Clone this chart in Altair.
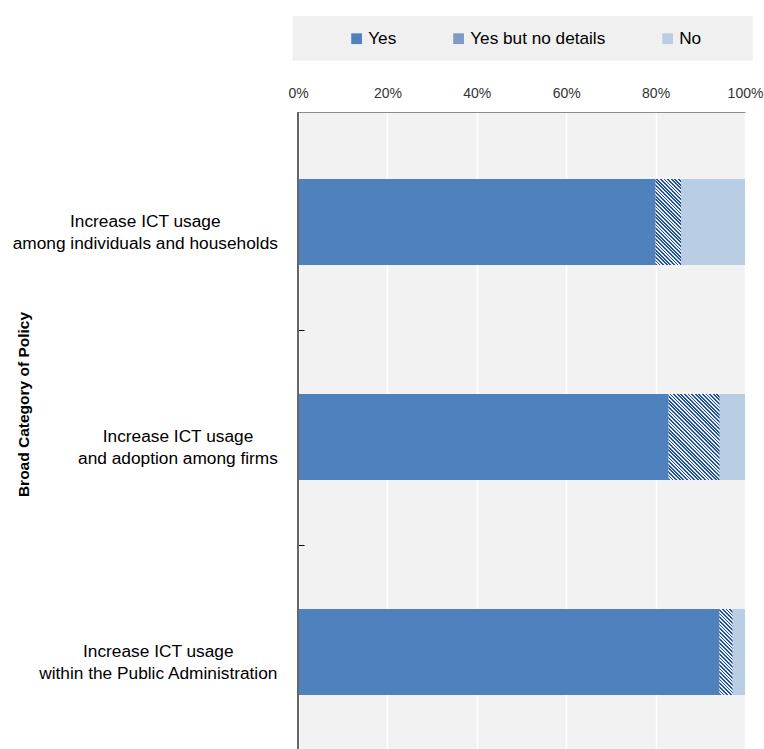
import altair as alt
import pandas as pd

# ---------------- data ----------------
categories = [
    "Increase ICT usage\namong individuals and households",
    "Increase ICT usage\nand adoption among firms",
    "Increase ICT usage\nwithin the Public Administration",
]
series = ["Yes", "Yes but no details", "No"]
yes = [80.0, 82.9, 94.3]
yes_no_details = [5.7, 11.4, 2.9]
no = [14.3, 5.7, 2.8]
x_ticks = [0, 20, 40, 60, 80, 100]

# ---------------- style / layout ----------------
FONT = "Liberation Sans"
W, H = 447, 637
P_IN, P_OUT, ALIGN = 0.6, 0.2814, 0.554
STEP = H / (len(categories) - P_IN + 2 * P_OUT)
BAR_H = STEP * (1 - P_IN)
C_YES, C_MID, C_NO = "#4f81bd", "#7f9ac4", "#b9cde5"
DARK, LIGHT = "#24518f", "#e6edf6"
LABEL_FS = 17.3
LABEL_GAP = 20

# Helvetica/Arial advance widths (per 1000 em) for label measurement
ADV = {' ': 278, 'a': 556, 'b': 556, 'c': 500, 'd': 556, 'e': 556, 'f': 278, 'g': 556,
       'h': 556, 'i': 222, 'j': 222, 'k': 500, 'l': 222, 'm': 833, 'n': 556, 'o': 556,
       'p': 556, 'q': 556, 'r': 333, 's': 500, 't': 278, 'u': 556, 'v': 500, 'w': 722,
       'x': 500, 'y': 500, 'z': 500, 'A': 667, 'C': 722, 'I': 278, 'P': 667, 'T': 611}


def text_width(s, fs):
    return sum(ADV.get(ch, 556) for ch in s) / 1000.0 * fs


rows = []
for c, vals in zip(categories, zip(yes, yes_no_details, no)):
    start = 0.0
    for s, v in zip(series, vals):
        rows.append(dict(category=c, series=s, value=v, start=start, end=start + v))
        start += v
df = pd.DataFrame(rows)

lab = pd.DataFrame({"category": categories})
lab["cx"] = [-(LABEL_GAP + max(text_width(l, LABEL_FS) for l in c.split("\n")) / 2) / W * 100
             for c in categories]


def hatch(w, h, period=3.6):
    r = h / w
    k = (1 + r) / (1 + r * r)
    n = max(1, round((w + h) / period))
    stops = []
    for i in range(n):
        a, b, c = i / n, (i + 0.5) / n, (i + 1) / n
        stops += [alt.GradientStop(offset=a, color=DARK), alt.GradientStop(offset=b, color=DARK),
                  alt.GradientStop(offset=b, color=LIGHT), alt.GradientStop(offset=c, color=LIGHT)]
    return alt.LinearGradient(gradient="linear", stops=stops, x1=0, y1=1, x2=k, y2=1 - k * r)


x_axis = alt.Axis(orient="top", values=x_ticks, labelExpr="datum.value + '%'", title=None,
                  grid=True, gridColor="white", gridWidth=1.5, ticks=False, domain=True,
                  domainColor="#8c8c8c", domainWidth=1, labelFontSize=14, labelColor="#333333",
                  labelPadding=12, labelFont=FONT, labelFlush=False, labelOverlap=False)
x_scale = alt.Scale(domain=[0, 100], nice=False, zero=True)

y_axis = alt.Axis(offset=-6, domain=False, labels=False, ticks=True, tickSize=6,
                  tickColor="black", tickWidth=1, tickOffset=STEP / 2, grid=False,
                  title="Broad Category of Policy", titleFontSize=15.5, titleFontWeight="bold",
                  titleColor="black", titleAngle=270, titleAlign="center",
                  titleBaseline="middle", titleX=-281, titleY=292, titleFont=FONT)
y_scale = alt.Scale(paddingInner=P_IN, paddingOuter=P_OUT, align=ALIGN)


def Y():
    return alt.Y("category:N", sort=categories, scale=y_scale, axis=y_axis)


legend = alt.Legend(orient="none", legendX=350 - 298 - 16, legendY=-96, direction="horizontal",
                    title=None, padding=14, symbolType="square", symbolSize=115,
                    symbolStrokeWidth=0, labelFontSize=17.2, labelFont=FONT,
                    labelColor="black", labelOffset=3, columnPadding=53, labelLimit=0)

# legend panel background (decoration behind the legend)
legend_bg = alt.Chart(pd.DataFrame({"k": [0]})).mark_rect(color="#f0f0f0").encode(
    x=alt.value(292.7 - 298), x2=alt.value(752.7 - 298),
    y=alt.value(16 - 112), y2=alt.value(60.7 - 112),
)

base = alt.Chart(df).mark_bar().encode(
    x=alt.X("start:Q", scale=x_scale, axis=x_axis),
    x2="end:Q",
    y=Y(),
    color=alt.Color("series:N", scale=alt.Scale(domain=series, range=[C_YES, C_MID, C_NO]),
                    legend=legend),
)

hatch_layers = []
for c, v in zip(categories, yes_no_details):
    w = v / 100 * W
    hatch_layers.append(
        alt.Chart(df).transform_filter(
            (alt.datum.category == c) & (alt.datum.series == series[1])
        ).mark_bar(fill=hatch(w, BAR_H), strokeWidth=0).encode(
            x=alt.X("start:Q", scale=x_scale, axis=x_axis),
            x2="end:Q",
            y=Y(),
        )
    )

labels = alt.Chart(lab).mark_text(align="center", baseline="middle", lineBreak="\n",
                                  lineHeight=21.5, fontSize=LABEL_FS, font=FONT,
                                  color="black", clip=False).encode(
    x=alt.X("cx:Q", scale=x_scale, axis=x_axis),
    y=Y(),
    text="category:N",
)

left_line = alt.Chart(pd.DataFrame({"k": [0]})).mark_rule(color="#666666", strokeWidth=2).encode(
    x=alt.value(0), y=alt.value(0), y2=alt.value(H)
)

chart = alt.layer(legend_bg, base, *hatch_layers, labels, left_line).properties(
    width=W, height=H,
    padding={"left": 298, "top": 112, "right": 19, "bottom": 0},
    autosize=alt.AutoSizeParams(type="none"),
).configure(font=FONT).configure_view(fill="#f2f2f2", stroke=None)

chart.save("out.html", embed_options={"renderer": "svg", "actions": False})
